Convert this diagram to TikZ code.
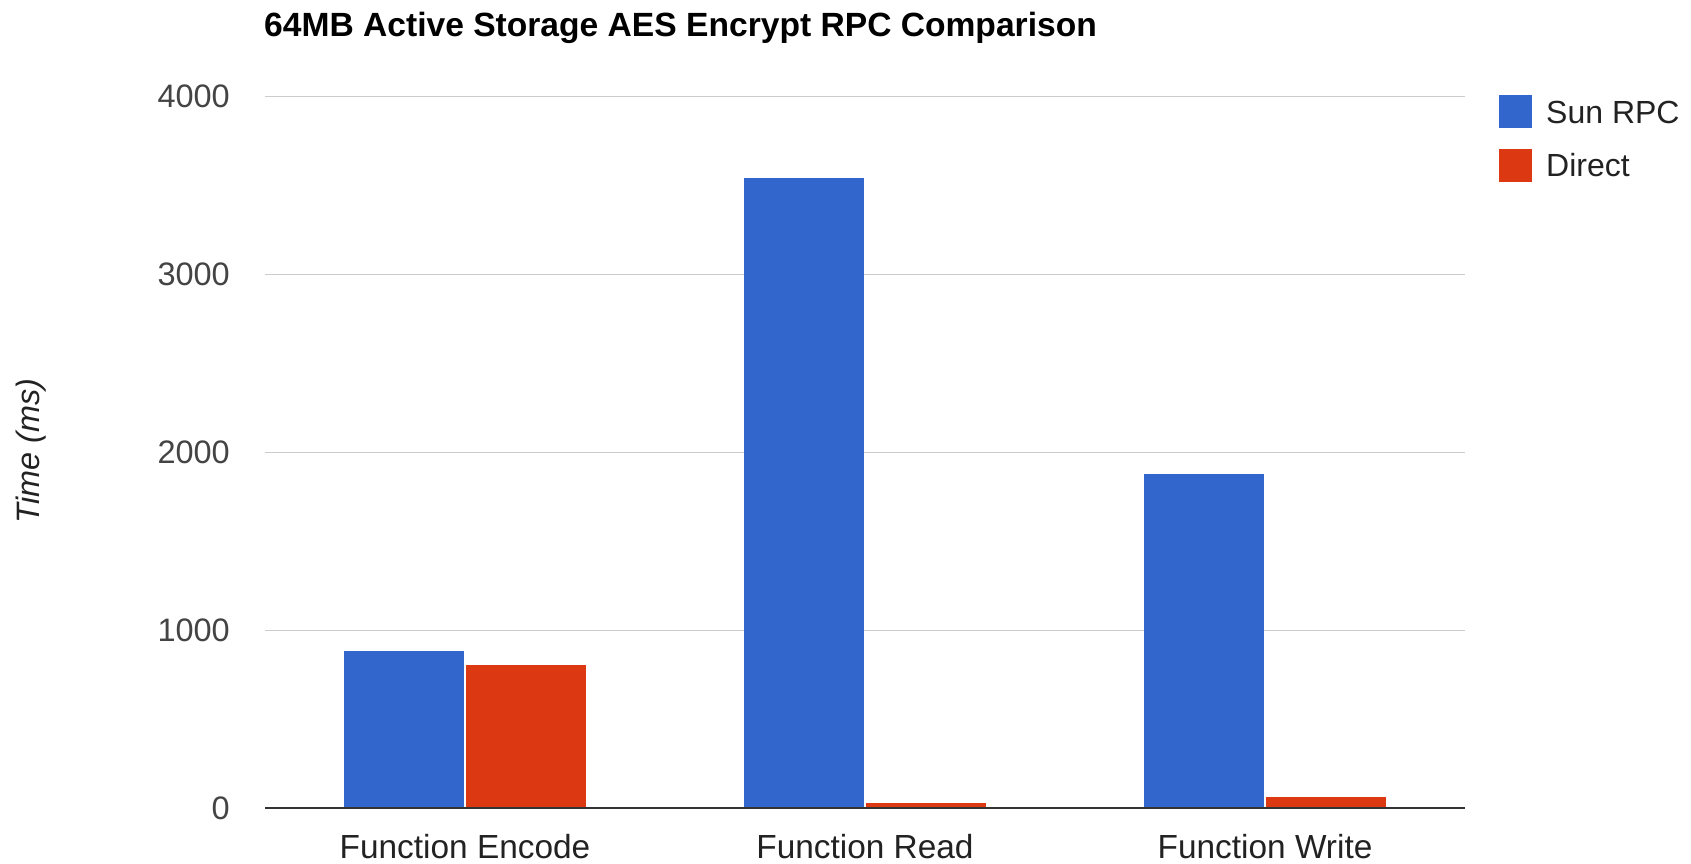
\documentclass[tikz,border=0pt]{standalone}
\usepackage{fontspec}
\setmainfont{Liberation Sans}
\definecolor{sunrpc}{HTML}{3366CC}
\definecolor{direct}{HTML}{DC3912}
\definecolor{gridgray}{HTML}{CCCCCC}
\definecolor{axisdark}{HTML}{333333}
\definecolor{ticktext}{HTML}{444444}
\definecolor{labeltext}{HTML}{222222}
\tikzset{
  gridline/.style={draw=gridgray, line width=1.5pt},
  baseline/.style={draw=axisdark, line width=2pt},
  ticklabel/.style={anchor=east, inner sep=0pt, text=ticktext, font=\fontsize{32.5}{36}\selectfont},
  catlabel/.style={anchor=base, inner sep=0pt, text=labeltext, font=\fontsize{33.4}{36}\selectfont},
  legendlabel/.style={anchor=base west, inner sep=0pt, text=labeltext, font=\fontsize{32}{36}\selectfont},
  barA/.style={fill=sunrpc},
  barB/.style={fill=direct},
}
\begin{document}
\begin{tikzpicture}[x=1pt, y=-1pt]
\useasboundingbox (0,0) rectangle (1691,863);

% title
\node[anchor=base west, inner sep=0pt, font=\fontsize{33.6}{38}\selectfont\bfseries] (title) at (264,36)
  {64MB Active Storage AES Encrypt RPC Comparison};

% axis title
\node[rotate=90, inner sep=0pt, text=labeltext, font=\fontsize{32.4}{36}\selectfont\itshape] (ytitle) at (31,451) {Time (ms)};

% data area: x in pixels, y in milliseconds (upwards)
\begin{scope}[shift={(0,808.3)}, y=0.1779pt]
  \foreach \v in {1000,2000,3000,4000}
    \draw[gridline] (265,\v) -- (1465,\v);
  \foreach \v/\n in {0/t0,1000/t1,2000/t2,3000/t3,4000/t4}
    \node[ticklabel] (\n) at (230,\v) {\v};

  % bars: Sun RPC left of the category centre, Direct right of it
  \foreach \c/\a/\b in {465/884/806, 865/3545/28, 1265/1877/63}{
    \fill[barA] (\c-121,0) rectangle (\c-1,\a);
    \fill[barB] (\c+1,0) rectangle (\c+121,\b);
  }
  \draw[baseline] (265,0) -- (1465,0);
\end{scope}

% category labels
\node[catlabel] (c1) at (465,858) {Function Encode};
\node[catlabel] (c2) at (865,858) {Function Read};
\node[catlabel] (c3) at (1265,858) {Function Write};

% legend
\fill[barA] (1499,95) rectangle (1532,128);
\fill[barB] (1499,149) rectangle (1532,182);
\node[legendlabel] (l1) at (1546,123.3) {Sun RPC};
\node[legendlabel] (l2) at (1546,176.7) {Direct};
\end{tikzpicture}
\end{document}
